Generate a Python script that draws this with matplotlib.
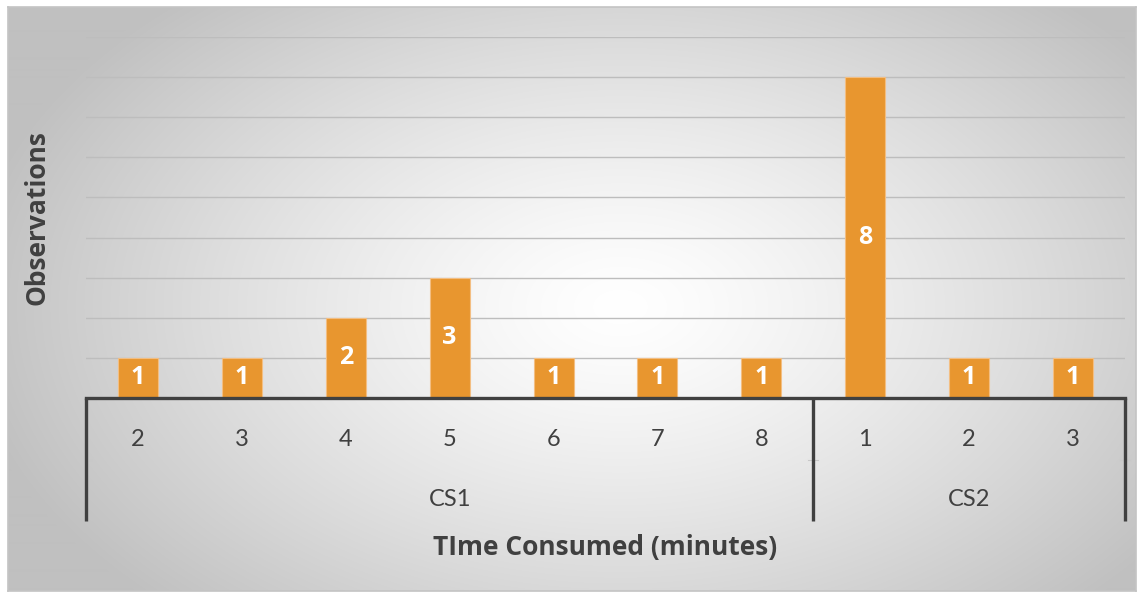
import numpy as np
import matplotlib.pyplot as plt
import matplotlib.transforms as mtransforms

# observations per time bucket, grouped by case study
groups = ['CS1', 'CS2']
group_minutes = [[2, 3, 4, 5, 6, 7, 8], [1, 2, 3]]
group_counts = [[1, 1, 2, 3, 1, 1, 1], [8, 1, 1]]

minutes = [m for g in group_minutes for m in g]
counts = [c for g in group_counts for c in g]

W, H = 1138, 593
fig = plt.figure(figsize=(W / 100, H / 100), dpi=100)
fig.patch.set_facecolor('white')

# chart area with a soft radial fill
bg = fig.add_axes([8 / W, 1 - 591 / H, (1136 - 8) / W, (591 - 7) / H])
yy, xx = np.mgrid[0:584, 0:1128]
r = np.sqrt(((xx - 612) / 620.0) ** 2 + ((yy - 300) / 390.0) ** 2)
shade = np.clip(255 - 58 * r ** 1.3, 192, 255) / 255.0
bg.imshow(np.dstack([shade] * 3), aspect='auto', interpolation='bilinear')
bg.set_xticks([])
bg.set_yticks([])
for s in bg.spines.values():
    s.set_color('#c4c4c4')
    s.set_linewidth(1.2)

ax = fig.add_axes([86 / W, 1 - 398 / H, (1125 - 86) / W, (398 - 37) / H])
ax.set_facecolor('none')
x = np.arange(len(counts))
bars = ax.bar(x, counts, width=0.385, color='#E8962F', edgecolor='#F3BE82',
              linewidth=0.8, zorder=3)
ax.bar_label(bars, label_type='center', color='white', fontsize=18,
             fontweight='bold', family='Open Sans')

ax.set_xlim(-0.5, len(counts) - 0.5)
ax.set_ylim(0, 9)
ax.set_yticks(range(1, 10))
ax.yaxis.grid(True, color='#bdbdbd', linewidth=1.0, zorder=0)
ax.tick_params(left=False, labelleft=False, bottom=False, labelbottom=False)
for side in ['top', 'right', 'left']:
    ax.spines[side].set_visible(False)
ax.spines['bottom'].set_color('#404040')
ax.spines['bottom'].set_linewidth(2.4)
ax.spines['bottom'].set_zorder(4)

trans = mtransforms.blended_transform_factory(ax.transData, ax.transAxes)
lvl1 = (398 - 440) / 361.0
lvl2 = (398 - 500) / 361.0
bottom = (398 - 521) / 361.0
mid = (398 - 460) / 361.0

for xi, m in zip(x, minutes):
    ax.text(xi, lvl1, str(m), transform=trans, ha='center', va='center',
            fontsize=17, color='#404040', family='Lato')

# group separators and group names
start = 0
edges = [-0.5]
for name, g in zip(groups, group_minutes):
    end = start + len(g)
    ax.text((start + end - 1) / 2.0, lvl2, name, transform=trans,
            ha='center', va='center', fontsize=17, color='#404040', family='Lato')
    edges.append(end - 0.5)
    start = end
for e in edges:
    ax.plot([e, e], [0, bottom], transform=trans, color='#404040',
            linewidth=2.4, clip_on=False, solid_capstyle='butt', zorder=4)
    ax.plot([e - 0.05, e + 0.05], [mid, mid], transform=trans, color='#c8c8c8',
            linewidth=0.8, clip_on=False)

fig.text(605 / W, 1 - 547 / H, 'TIme Consumed (minutes)', ha='center',
         va='center', fontsize=19, fontweight='bold', color='#404040',
         family='Open Sans')
fig.text(37 / W, 1 - 218 / H, 'Observations', ha='center', va='center',
         rotation=90, fontsize=19, fontweight='bold', color='#404040',
         family='Open Sans')

fig.savefig('out.png', dpi=100)
